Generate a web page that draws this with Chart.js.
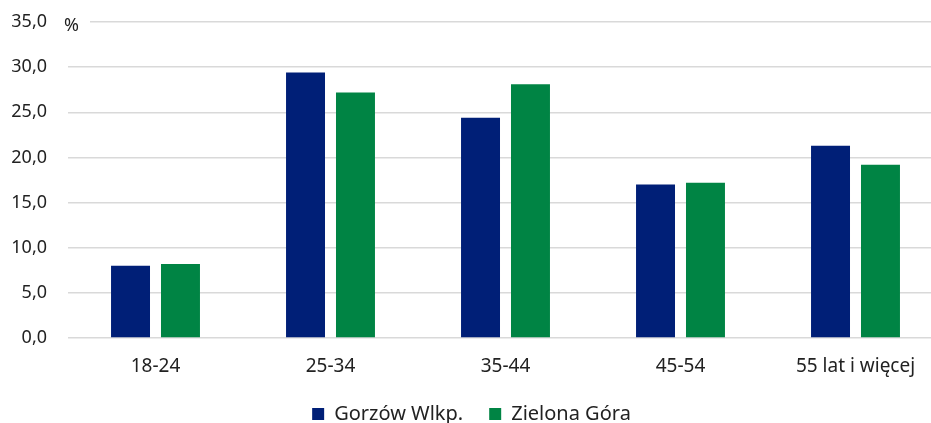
<!DOCTYPE html>
<html lang="pl">
<head>
<meta charset="UTF-8">
<title>Wiek</title>
<script src="https://cdn.jsdelivr.net/npm/chart.js"></script>
<style>
  html, body { margin: 0; padding: 0; background: #fff; overflow: hidden; }
  #wrap { width: 952px; height: 434px; }
</style>
</head>
<body>
<div id="wrap"><canvas id="chart"></canvas></div>
<script>
// dane (%)
const categories = ['18-24', '25-34', '35-44', '45-54', '55 lat i więcej'];
const gorzow = [8.0, 29.4, 24.4, 17.0, 21.3];
const zielonaGora = [8.2, 27.2, 28.1, 17.2, 19.2];
const seriesNames = ['Gorzów Wlkp.', 'Zielona Góra'];

const FONT = "'Noto Sans', sans-serif";

// znak % przy górnej linii siatki
const percentLabel = {
    id: 'percentLabel',
    afterDraw(chart) {
        const ctx = chart.ctx;
        const y = chart.scales.y.getPixelForValue(35);
        const x = chart.chartArea.left;
        ctx.save();
        ctx.fillStyle = '#fff';
        ctx.fillRect(x - 4, y - 3, 26, 6);
        ctx.fillStyle = '#222';
        ctx.font = '18px ' + FONT;
        ctx.textAlign = 'left';
        ctx.textBaseline = 'middle';
        ctx.fillText('%', x - 4, y + 4);
        ctx.restore();
    }
};

new Chart(document.getElementById('chart'), {
    type: 'bar',
    data: {
        labels: categories,
        datasets: [
            { label: seriesNames[0], data: gorzow, backgroundColor: '#001f77' },
            { label: seriesNames[1], data: zielonaGora, backgroundColor: '#008444' }
        ]
    },
    options: {
        responsive: true,
        maintainAspectRatio: false,
        animation: false,
        categoryPercentage: 0.571,
        barPercentage: 0.78,
        layout: { padding: { top: 22, right: 9, left: 0, bottom: 0 } },
        plugins: {
            tooltip: { enabled: false },
            legend: {
                position: 'bottom',
                labels: {
                    font: { family: FONT, size: 20 },
                    color: '#222',
                    boxWidth: 12,
                    boxHeight: 12,
                    padding: 26
                }
            }
        },
        scales: {
            x: {
                afterFit(scale) { scale.height = 40; },
                grid: { display: false },
                border: { display: false },
                ticks: { font: { family: FONT, size: 19 }, color: '#222', padding: 9 }
            },
            y: {
                min: 0,
                max: 35,
                afterFit(scale) {
                    scale.width = 68;
                    scale.paddingTop = 10;
                    scale.paddingBottom = 10;
                },
                grid: { color: '#d9d9d9', lineWidth: 1.5, drawTicks: false },
                border: { display: false },
                ticks: {
                    stepSize: 5,
                    padding: 21,
                    font: { family: FONT, size: 18 },
                    color: '#222',
                    callback: v => v.toFixed(1).replace('.', ',')
                }
            }
        }
    },
    plugins: [percentLabel]
});
</script>
</body>
</html>
